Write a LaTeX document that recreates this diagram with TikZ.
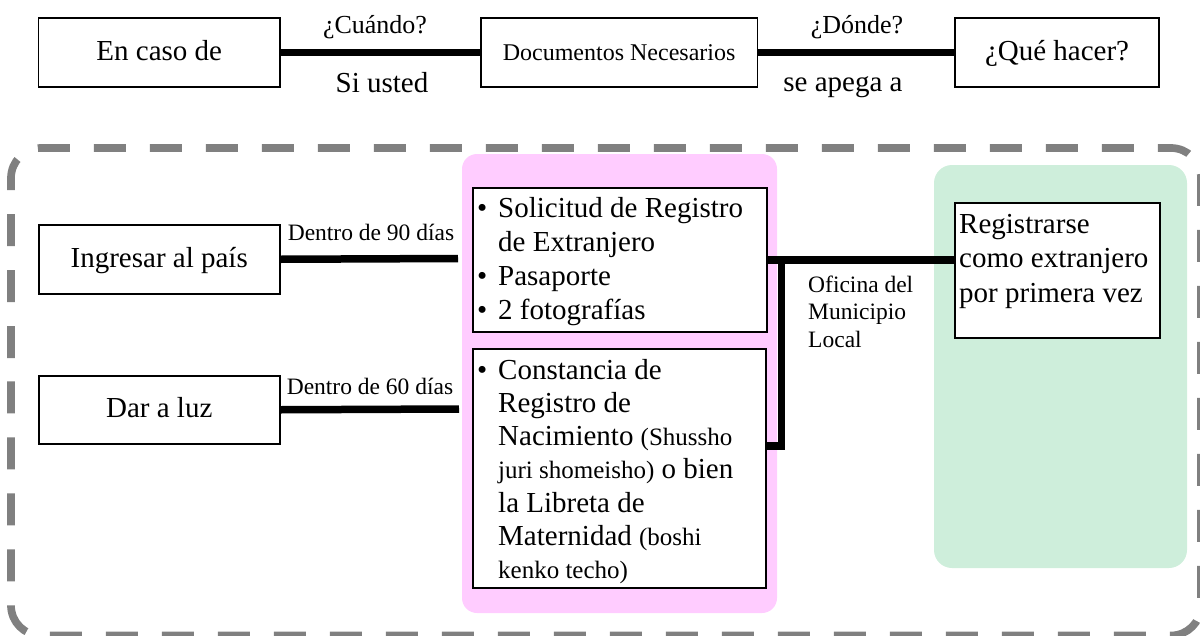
\documentclass[tikz,border=0pt]{standalone}
\usepackage{fontspec}
\setmainfont{Liberation Serif}
\definecolor{pinkbg}{RGB}{255,204,255}
\definecolor{greenbg}{RGB}{206,238,219}
\definecolor{dashgray}{RGB}{128,128,128}
\newcommand\fsz[2]{\fontsize{#1}{#2}\selectfont}
\newcommand\bitem{\par\hangindent=26pt\hangafter=1\noindent\hspace*{5pt}\makebox[21pt][l]{\textbullet}}
\newcommand\romaji[1]{{\fontsize{25}{25}\selectfont #1}}
\begin{document}
\begin{tikzpicture}[x=1pt,y=-1pt,
  box/.style={draw, line width=1.5pt, fill=white, inner sep=0pt, anchor=north west},
  topbox/.style={box, minimum height=68.7pt, text height=19pt, text depth=3pt, font={\fsz{29}{34}}},
  txt/.style={inner sep=0pt, anchor=base west, font={\fsz{29}{34}}},
  conn/.style={line width=7.5pt},
  lbl/.style={inner sep=0pt, font={\fsz{23.5}{27.5}}},
  qlbl/.style={inner sep=0pt, font={\fsz{26}{30}}},
  blbl/.style={inner sep=0pt, font={\fsz{29}{34}}},
]
\useasboundingbox (0,0) rectangle (1200,635);

% dashed frame
\draw[dashgray, line width=7.7pt, rounded corners=30pt, dash pattern=on 32pt off 24pt, dash phase=44pt]
  (11,400) -- (11,148) -- (1201,148) -- (1201,635.5) -- (11,635.5) -- cycle;

% background panels
\fill[pinkbg, rounded corners=15pt] (462,154) rectangle (777,613);
\fill[greenbg, rounded corners=18pt] (934,165) rectangle (1187,568);

% top row
\node[topbox, minimum width=241.6pt] (caso) at (37.7,17.3) {En caso de};
\node[topbox, minimum width=276.7pt, font={\fsz{24}{28}}] (docs) at (480,17.3) {Documentos Necesarios};
\node[topbox, minimum width=204pt] (que) at (954.3,17.3) {¿Qué hacer?};

\node[qlbl, anchor=base] (cuando) at (375,33) {¿Cuándo?};
\node[blbl, anchor=base] (usted) at (382,92) {Si usted};
\node[qlbl, anchor=base] (donde) at (857,33) {¿Dónde?};
\node[blbl, anchor=base] (apega) at (843,91) {se apega a};

% left column
\node[topbox, minimum width=241pt, minimum height=69pt] (ing) at (38,224) {Ingresar al país};
\node[topbox, minimum width=241pt, minimum height=68pt] (dar) at (38,375) {Dar a luz};
\node[lbl, anchor=base] (d90) at (371,240) {Dentro de 90 días};
\node[lbl, anchor=base] (d60) at (370,394) {Dentro de 60 días};
\coordinate (ingEnd) at (458,258.5);
\coordinate (darEnd) at (459,409);

% documents
\node[box, minimum width=294pt, minimum height=144pt] (sol) at (472,187) {};
\node[txt] (soltxt) at (472,217) {\parbox[t]{294pt}{\fsz{29}{34.3}%
\bitem Solicitud de Registro\\de Extranjero
\bitem Pasaporte
\bitem 2 fotografías}};
\node[box, minimum width=293pt, minimum height=239pt] (con) at (472,348) {};
\node[txt] (context) at (472,379) {\parbox[t]{293pt}{\fsz{29}{33.3}%
\bitem Constancia de\\Registro de\\Nacimiento \romaji{(Shussho}\\\romaji{juri shomeisho)} o bien\\la Libreta de\\Maternidad \romaji{(boshi}\\\romaji{kenko techo)}}};

% result
\node[box, minimum width=205pt, minimum height=135pt] (reg) at (954,202) {};
\node[txt] (regtxt) at (959,233) {\parbox[t]{200pt}{\fsz{29}{34.5}%
Registrarse\\como extranjero\\por primera vez}};

\node[txt] (ofi) at (808,292) {\parbox[t]{120pt}{\fsz{23.5}{27.5}Oficina del\\Municipio\\Local}};

% connectors
\draw[conn] (caso.east) -- (docs.west);
\draw[conn] (docs.east) -- (que.west);
\draw[conn] (ing.east) -- (ingEnd);
\draw[conn] (dar.east) -- (darEnd);
\coordinate (jn) at (781.7,446);
\draw[conn] (sol.east) -- (sol.east -| reg.west);
\draw[conn, line join=miter] (con.east |- jn) -- (jn) -- (jn |- sol.east);
\end{tikzpicture}
\end{document}
